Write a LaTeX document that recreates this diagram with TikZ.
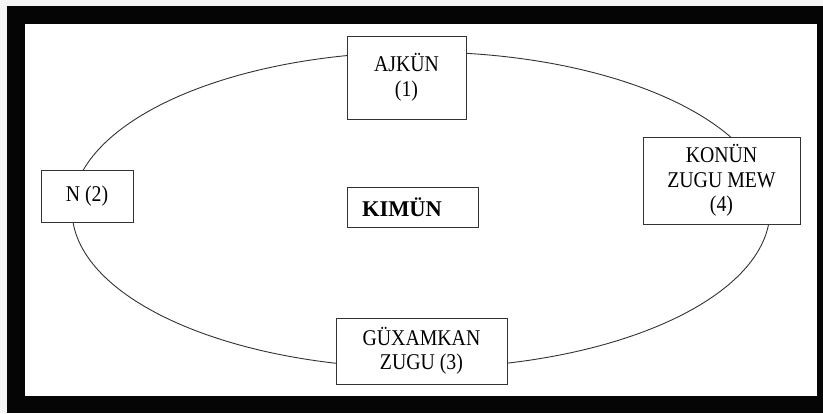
\documentclass[tikz,border=0pt]{standalone}
\usepackage{fontspec}
\setmainfont{Liberation Serif}
\newfontfamily\tallserif[FakeStretch=0.88]{Liberation Serif}
\definecolor{frameblack}{rgb}{0.02,0.02,0.02}
\definecolor{edgegray}{rgb}{0.2,0.2,0.2}
\definecolor{paper}{rgb}{0.96,0.96,0.96}

\begin{document}
\begin{tikzpicture}[
  x=1pt, y=-1pt,
  every node/.style={
    color=black,
    draw=edgegray,
    fill=white,
    line width=1pt,
    inner sep=0pt,
    align=center,
    font=\tallserif\fontsize{22.5}{24.5}\selectfont,
  },
  stagebox/.style={minimum width=#1},
  orbit/.style={draw=edgegray, line width=0.9pt},
]
\useasboundingbox (0,0) rectangle (823,413);
\fill[paper] (0,0) rectangle (823,413);
\fill[frameblack] (7,6) rectangle (823,413);
\fill[white] (25,24) rectangle (817,396);

\draw[orbit] (421,210) ellipse [x radius=349pt, y radius=158pt];

\node(ajkun)[stagebox=119pt, minimum height=83pt] at (406.5,77.5) {AJKÜN\\(1)};
\node(n)[stagebox=92pt, minimum height=52pt] at (87,196) {N (2)};
\node(guxamkan)[stagebox=171pt, minimum height=66pt] at (421.5,351) {GÜXAMKAN\\ZUGU (3)};
\node(konun)[stagebox=157pt, minimum height=87pt] at (721.5,180.5) {KONÜN\\ZUGU MEW\\(4)};

\node(kimun)[text width=101pt, align=left, inner xsep=15pt, minimum height=40pt,
  font=\rmfamily\fontsize{22.5}{26}\selectfont\bfseries] at (412.5,207) {KIMÜN};

\end{tikzpicture}
\end{document}
